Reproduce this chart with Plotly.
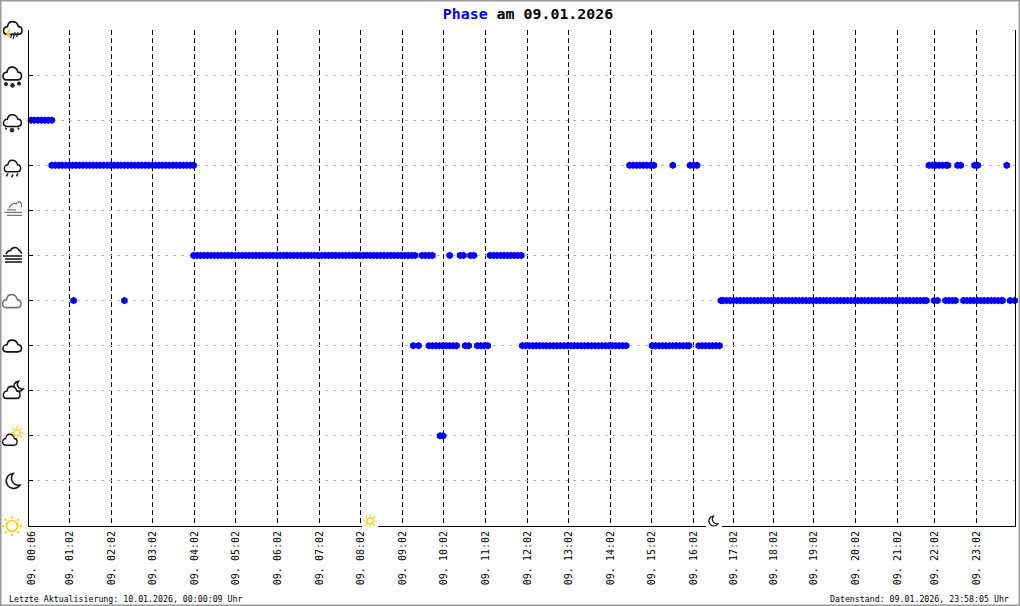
import base64
import plotly.graph_objects as go

# sample numbers (about 5 minute steps) at which each weather phase was recorded
phase_9 = [0, 1, 2, 3, 4, 5, 6]
phase_8 = [6, 7, 8, 9, 10, 11, 12, 13, 14, 15, 16, 17, 18, 19, 20, 21, 22, 23, 24, 25, 26, 27, 28, 29, 30, 31,
           32, 33, 34, 35, 36, 37, 38, 39, 40, 41, 42, 43, 44, 45, 46, 47,
           173, 174, 175, 176, 177, 178, 179, 180, 185.5, 190.5, 191.5, 192.5,
           259.5, 260.5, 261.5, 262.5, 263.5, 264.5, 265, 267.8, 268.7, 272.7, 273.6, 282]
phase_6 = [47, 48, 49, 50, 51, 52, 53, 54, 55, 56, 57, 58, 59, 60, 61, 62, 63, 64, 65, 66, 67, 68, 69, 70, 71, 72,
           73, 74, 75, 76, 77, 78, 79, 80, 81, 82, 83, 84, 85, 86, 87, 88, 89, 90, 91, 92, 93, 94, 95, 96, 97, 98,
           99, 100, 101, 102, 103, 104, 105, 106, 107, 108, 109, 110, 111,
           113, 114, 115, 116, 121, 124, 125, 127, 128,
           132.7, 133.7, 134.7, 135.7, 136.7, 137.7, 138.7, 139.7, 140.7, 141.7]
phase_5 = [12.3, 27, 199.4, 200, 201, 202, 203, 204, 205, 206, 207, 208, 209, 210, 211, 212, 213, 214, 215, 216,
           217, 218, 219, 220, 221, 222, 223, 224, 225, 226, 227, 228, 229, 230, 231, 232, 233, 234, 235, 236,
           237, 238, 239, 240, 241, 242, 243, 244, 245, 246, 247, 248, 249, 250, 251, 252, 253, 254, 255, 256,
           257, 258, 258.8, 261, 262, 264.3, 265.3, 266.3, 267.2,
           269.5, 270.5, 271.5, 272.5, 273.5, 274.5, 275.5, 276.5, 277.5, 278.5, 279.5, 280.5, 280.8, 283, 284.3]
phase_4 = [110.5, 112, 115, 116, 117, 118, 119, 120, 121, 122, 123, 125.5, 126.5, 129, 130, 131, 132,
           142, 143, 144, 145, 146, 147, 148, 149, 150, 151, 152, 153, 154, 155, 156, 157, 158, 159, 160, 161,
           162, 163, 164, 165, 166, 167, 168, 169, 170, 171, 172,
           179.5, 180.5, 181.5, 182.5, 183.5, 184.5, 185.5, 186.5, 187.5, 188.5, 189.5, 190.2,
           193, 194, 195, 196, 197, 198, 199]
phase_2 = [118.2, 119.1]

# tick positions in sample numbers, and their labels
tick_pos = [0.2, 11.07, 23.21, 35.06, 47.20, 59.05, 71.19, 83.32, 95.17, 107.31, 119.16, 131.30, 143.44, 155.29,
            167.43, 179.28, 191.42, 202.98, 214.54, 226.10, 238.24, 250.38, 261.07, 273.21]
tick_text = ["09. 00:06", "09. 01:02", "09. 02:02", "09. 03:02", "09. 04:02", "09. 05:02", "09. 06:02",
             "09. 07:02", "09. 08:02", "09. 09:02", "09. 10:02", "09. 11:02", "09. 12:02", "09. 13:02",
             "09. 14:02", "09. 15:02", "09. 16:02", "09. 17:02", "09. 18:02", "09. 19:02", "09. 20:02",
             "09. 21:02", "09. 22:02", "09. 23:02"]
levels = [0, 1, 2, 3, 4, 5, 6, 7, 8, 9, 10, 11]
sunrise_sample = 98
sunset_sample = 197.4

W, H = 1020, 606
ML, MR, MT, MB = 29, 5, 30, 80
PW, PH = W - ML - MR, H - MT - MB
PITCH, FIRST = 3.46, 31
BLUE, MONO, SUN, GREY = "#0000ff", "DejaVu Sans Mono", "#ffcc00", "#777777"


def paper_x(px):
    return (px - ML) / PW


def paper_y(py):
    return 1 - (py - MT) / PH


CLOUD = "M5,13H16C19,13 20,11 20,9.5C20,7.5 18.5,6 16.5,6C15.5,3 13,1.5 10.5,1.5C8,1.5 6,3 5.5,6C3,6 1.5,8 1.5,9.5C1.5,11.5 3,13 5,13Z"


def cloud(tx, ty, color="#111", sx=1.0, sy=1.0, fill="none"):
    return (f'<path transform="translate({tx},{ty}) scale({sx},{sy})" d="{CLOUD}" fill="{fill}" '
            f'stroke="{color}" stroke-width="1.6"/>')


def star(x, y, r=2.0):
    return (f'<path d="M{x-r},{y}H{x+r}M{x},{y-r}V{y+r}M{x-r*.7},{y-r*.7}L{x+r*.7},{y+r*.7}'
            f'M{x-r*.7},{y+r*.7}L{x+r*.7},{y-r*.7}" stroke="#222" stroke-width="1.2"/>')


def sun(x, y, r, ray1, ray2, sw=1.6):
    rays = "".join(
        f'<path d="M{x+a*ray1:.2f},{y+b*ray1:.2f}L{x+a*ray2:.2f},{y+b*ray2:.2f}" stroke="{SUN}" stroke-width="{sw}"/>'
        for a, b in [(1, 0), (-1, 0), (0, 1), (0, -1), (.71, .71), (.71, -.71), (-.71, .71), (-.71, -.71)])
    return f'<circle cx="{x}" cy="{y}" r="{r}" fill="none" stroke="{SUN}" stroke-width="{sw}"/>' + rays


def moon(x, y, r, sw=1.5, color="#111"):
    return (f'<path d="M{x+r*.1},{y-r}A{r},{r} 0 1 0 {x+r},{y+r*.55}A{r*.95},{r*.95} 0 0 1 {x+r*.1},{y-r}Z" '
            f'fill="white" stroke="{color}" stroke-width="{sw}"/>')


# icon drawing space: 28 x 28, with the phase level at Y = 14 and X = pixel x - 1
icon_art = {
    11: cloud(1, 4, sy=1.1) + '<path d="M8,13L5,19H7.5L5.5,24L10,17H7.5L9.5,13Z" fill="#ffcc00"/>'
        '<path d="M11,17L9.5,22M14,16L12,23M17,16L15.5,21" stroke="#222" stroke-width="1.2"/>',
    10: cloud(0.5, 4.5, sy=1.1) + star(5, 23) + star(11.5, 24.2, 2.4) + star(18, 22.5),
    9: cloud(1, 7, sx=.97, sy=1.02) + '<path d="M4.5,21.5l1,2M18,21.5l-1,2" stroke="#222" stroke-width="1.6"/>' + star(11, 24, 2.4),
    8: cloud(2, 7.5, sx=.88, sy=1.0) + '<path d="M7,22l-1.5,3M12,23l-1.5,3M17,22l-1.5,3" stroke="#222" stroke-width="1.6"/>',
    7: f'<path d="M8,12C9,9 12,6 15,7.5C16,6 19,4.5 20,6.5C21,8 20.5,10 20,11" fill="none" stroke="{GREY}" stroke-width="1.3"/>'
       f'<path d="M6,13.5H15M3.5,16H21M6,19H21" stroke="{GREY}" stroke-width="1.4" fill="none"/>',
    6: '<path d="M5,12.5C6,10 8.5,9 9.5,9C11,6 15,5 17,7.5C18,8 19,10 21,12" fill="none" stroke="#111" stroke-width="1.6"/>'
       '<path d="M2,14.5H21M4,17.5H21M4,20.5H21" stroke="#111" stroke-width="1.6"/>',
    5: cloud(0, 6.5, color=GREY, sy=1.12),
    4: cloud(0.5, 7, sy=1.02),
    3: moon(17, 9.5, 5, 1.5) + cloud(1, 8, sx=.9, sy=1.05, fill="white"),
    2: sun(16, 11, 3.2, 4.6, 6.6, 1.2) + cloud(0.5, 11, sx=.78, sy=.95, fill="white"),
    1: moon(11.5, 14, 7.5, 1.5),
    0: sun(11, 14, 5.5, 7.5, 10, 1.7),
}


def uri(body, size):
    svg = f'<svg xmlns="http://www.w3.org/2000/svg" width="{size}" height="{size}" viewBox="0 0 {size} {size}">{body}</svg>'
    return "data:image/svg+xml;base64," + base64.b64encode(svg.encode()).decode()


fig = go.Figure()
for lvl, xs in [(9, phase_9), (8, phase_8), (6, phase_6), (5, phase_5), (4, phase_4), (2, phase_2)]:
    fig.add_trace(go.Scatter(x=xs, y=[lvl] * len(xs), mode="markers", cliponaxis=False, showlegend=False,
                             marker=dict(symbol="hexagon", size=7.5, color=BLUE, line=dict(width=0))))

images = []
for lvl in levels:
    images.append(dict(source=uri(icon_art[lvl], 28), xref="paper", yref="paper", x=paper_x(1), y=lvl / 11,
                       sizex=28 / PW, sizey=28 / PH, xanchor="left", yanchor="middle", sizing="stretch", layer="above"))
sun_small = '<rect width="16" height="16" fill="white"/>' + sun(8, 8, 3.1, 4.6, 6.6, 1.3)
moon_small = '<rect width="16" height="16" fill="white"/>' + moon(7, 8, 5, 1.2)
images.append(dict(source=uri(sun_small, 16), xref="x", yref="paper", x=sunrise_sample, y=paper_y(521),
                   sizex=16 / PITCH, sizey=16 / PH, xanchor="center", yanchor="middle", sizing="stretch", layer="above"))
images.append(dict(source=uri(moon_small, 16), xref="x", yref="paper", x=sunset_sample, y=paper_y(521),
                   sizex=16 / PITCH, sizey=16 / PH, xanchor="center", yanchor="middle", sizing="stretch", layer="above"))

fig.update_layout(
    width=W, height=H, margin=dict(l=ML, r=MR, t=MT, b=MB), autosize=False,
    paper_bgcolor="white", plot_bgcolor="white", showlegend=False,
    font=dict(family=MONO, color="black"),
    title=dict(text=f'<b><span style="color:{BLUE}">Phase</span> am 09.01.2026</b>', x=528 / W, y=1 - 14 / H,
               xanchor="center", yanchor="middle", xref="container", yref="container",
               font=dict(family=MONO, size=14.9, color="black")),
    xaxis=dict(range=[(ML - FIRST) / PITCH, (W - MR - FIRST) / PITCH], showline=True,
               linecolor="black", linewidth=1, tickmode="array", tickvals=tick_pos, ticktext=tick_text, tickangle=-90,
               tickfont=dict(family=MONO, size=10, color="black"), ticks="", showgrid=False, zeroline=False,
               minor=dict(tickmode="array", tickvals=tick_pos[1:], showgrid=True, gridcolor="black", gridwidth=1,
                          griddash="5px,3px", ticks="")),
    yaxis=dict(range=[0, 11], showline=True, mirror=True, linecolor="black",
               linewidth=1, tickmode="array", tickvals=levels, showticklabels=False, ticks="inside", ticklen=4,
               tickcolor="black", tickwidth=1, showgrid=True, gridcolor="#bbbbbb", gridwidth=1, griddash="3px,5px",
               zeroline=False),
    images=images,
    shapes=[dict(type="rect", xref="paper", yref="paper", x0=paper_x(0.5), x1=paper_x(W - 0.5), y0=paper_y(H - 0.5),
                 y1=paper_y(0.5), line=dict(color="#999999", width=2), layer="above")],
    annotations=[
        dict(text="Letzte Aktualisierung: 10.01.2026, 00:00:09 Uhr", xref="paper", yref="paper", x=paper_x(7),
             y=paper_y(599), xanchor="left", yanchor="middle", showarrow=False,
             font=dict(family=MONO, size=8.25, color="black")),
        dict(text="Datenstand: 09.01.2026, 23:58:05 Uhr", xref="paper", yref="paper", x=paper_x(1011),
             y=paper_y(599), xanchor="right", yanchor="middle", showarrow=False,
             font=dict(family=MONO, size=8.25, color="black")),
    ],
)

fig.write_html("out.html", config=dict(displayModeBar=False),
               post_script="document.body.style.margin='0';")
